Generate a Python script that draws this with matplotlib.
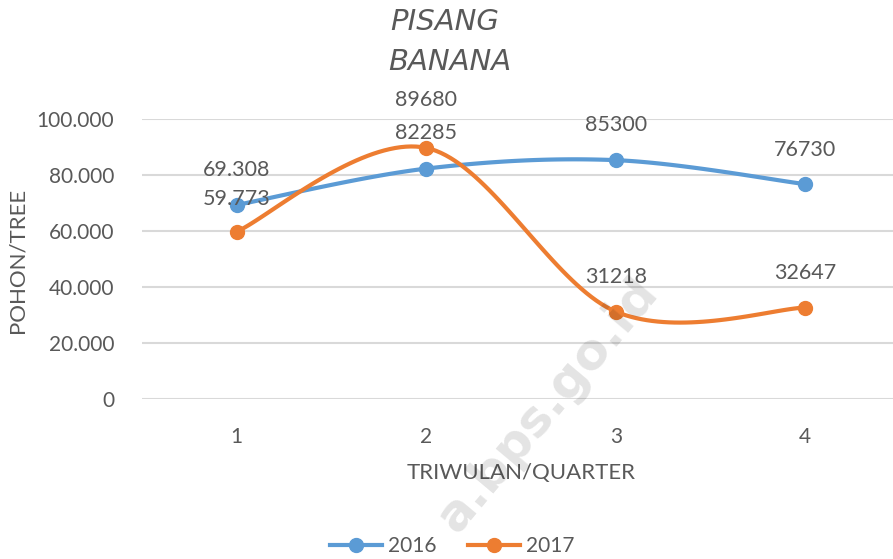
import numpy as np
import matplotlib
matplotlib.use("Agg")
import matplotlib.pyplot as plt

# data
quarters = [1, 2, 3, 4]
val_2016 = [69308, 82285, 85300, 76730]
val_2017 = [59773, 89680, 31218, 32647]
lab_2016 = ["69.308", "82285", "85300", "76730"]
lab_2017 = ["59.773", "89680", "31218", "32647"]
yticks = [0, 20000, 40000, 60000, 80000, 100000]
ytick_labels = ["0", "20.000", "40.000", "60.000", "80.000", "100.000"]

blue = "#5B9BD5"
orange = "#ED7D31"
grey = "#595959"

plt.rcParams['font.family'] = ['Lato', 'DejaVu Sans']


def smooth(x, y, n=40):
    # catmull-rom style bezier like excel's smoothed line
    x = np.asarray(x, float)
    y = np.asarray(y, float)
    px = np.concatenate([[x[0]], x, [x[-1]]])
    py = np.concatenate([[y[0]], y, [y[-1]]])
    xs, ys = [], []
    t = np.linspace(0, 1, n)
    for i in range(1, len(px) - 2):
        p0 = np.array([px[i], py[i]])
        p3 = np.array([px[i + 1], py[i + 1]])
        p1 = p0 + (np.array([px[i + 1], py[i + 1]]) - np.array([px[i - 1], py[i - 1]])) / 6
        p2 = p3 - (np.array([px[i + 2], py[i + 2]]) - np.array([px[i], py[i]])) / 6
        b = ((1 - t) ** 3)[:, None] * p0 + (3 * (1 - t) ** 2 * t)[:, None] * p1 \
            + (3 * (1 - t) * t ** 2)[:, None] * p2 + (t ** 3)[:, None] * p3
        xs.extend(b[:, 0])
        ys.extend(b[:, 1])
    return xs, ys


fig = plt.figure(figsize=(8.93, 5.59), dpi=100)
ax = fig.add_axes([142 / 893, 160 / 559, 758 / 893, 280 / 559])

for vals, col, name in [(val_2016, blue, "2016"), (val_2017, orange, "2017")]:
    sx, sy = smooth(quarters, vals)
    ax.plot(sx, sy, color=col, lw=3, solid_capstyle='round', zorder=3)
    ax.plot(quarters, vals, 'o', color=col, ms=10, zorder=4)
    ax.plot([], [], '-o', color=col, lw=3, ms=10, label=name)

offs_2016 = [35, 36, 35, 34]
offs_2017 = [33, 48, 35, 35]
for q, v, s, o in zip(quarters, val_2016, lab_2016, offs_2016):
    ax.annotate(s, (q, v), xytext=(0, o), textcoords='offset pixels',
                ha='center', va='center', fontsize=15.5, color=grey, zorder=5)
for q, v, s, o in zip(quarters, val_2017, lab_2017, offs_2017):
    ax.annotate(s, (q, v), xytext=(0, o), textcoords='offset pixels',
                ha='center', va='center', fontsize=15.5, color=grey, zorder=5)

ax.set_xlim(0.5, 4.5)
ax.set_ylim(0, 100000)
ax.set_xticks(quarters)
ax.set_xticklabels([str(q) for q in quarters])
ax.set_yticks(yticks)
ax.set_yticklabels(ytick_labels)
ax.tick_params(length=0, labelsize=15, labelcolor=grey)
ax.tick_params(axis='y', pad=20)
ax.tick_params(axis='x', pad=20)
ax.grid(axis='y', color='#D9D9D9', lw=1.5)
ax.set_axisbelow(True)
for s in ax.spines.values():
    s.set_visible(False)

ax.set_xlabel("TRIWULAN/QUARTER", fontsize=16, color=grey, labelpad=12)
fig.text(18 / 893, 1 - 260 / 559, "POHON/TREE", rotation=90, fontsize=16,
         color=grey, ha='center', va='center')

fig.text(445 / 893, 1 - 22 / 559, "PISANG", fontsize=21, style='italic',
         color=grey, ha='center', va='center', family='DejaVu Sans')
fig.text(450 / 893, 1 - 62 / 559, "BANANA", fontsize=21, style='italic',
         color=grey, ha='center', va='center', family='DejaVu Sans')

# watermark
fig.text(548 / 893, 1 - 405 / 559, "a.bps.go.id", fontsize=36, rotation=50,
         color='#000000', alpha=0.11, ha='center', va='center',
         fontweight='bold', family='DejaVu Sans')

fig.legend(loc='center', bbox_to_anchor=(452 / 893, 1 - 546 / 559), ncol=2,
           frameon=False, fontsize=15, labelcolor=grey, handlelength=2.5,
           columnspacing=1.5, handletextpad=0.3)

fig.savefig("out.png", dpi=100)
